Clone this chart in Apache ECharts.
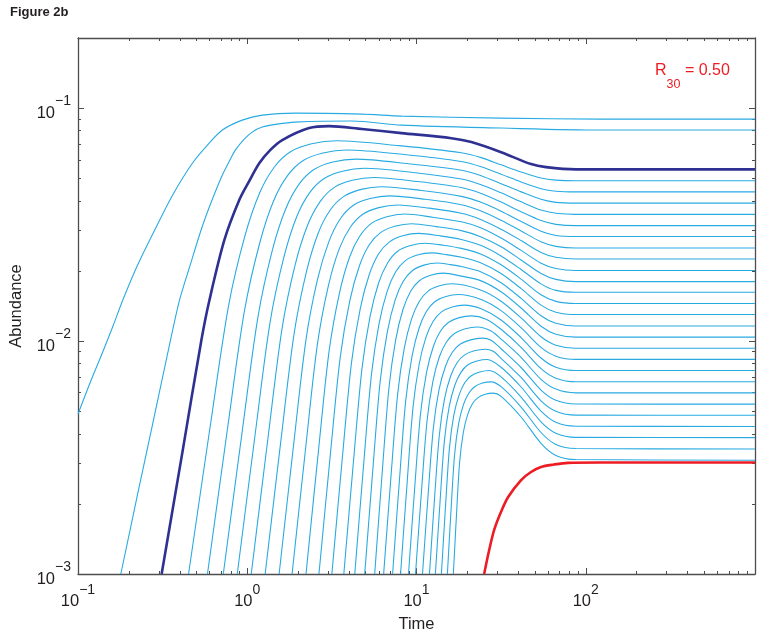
<!DOCTYPE html>
<html>
<head>
<meta charset="utf-8">
<title>Figure 2b</title>
<script src="https://cdn.jsdelivr.net/npm/echarts@6/dist/echarts.min.js"></script>
<style>
  html, body { margin: 0; padding: 0; background: #fff; }
  #box { width: 761px; height: 638px; }
</style>
</head>
<body>
<div id="box"></div>
<script>
// tick values (log axes)
const xMajor = [0.1, 1, 10, 100, 1000];
const xMinor = [0.2, 0.3, 0.4, 0.5, 0.6, 0.7, 0.8, 0.9, 2, 3, 4, 5, 6, 7, 8, 9,
  20, 30, 40, 50, 60, 70, 80, 90, 200, 300, 400, 500, 600, 700, 800, 900];
const xLabels = [0.1, 1, 10, 100];
const yMajor = [0.001, 0.01, 0.1];
const yMinor = [0.002, 0.003, 0.004, 0.005, 0.006, 0.007, 0.008, 0.009,
  0.02, 0.03, 0.04, 0.05, 0.06, 0.07, 0.08, 0.09, 0.2];
const yLabels = [0.001, 0.01, 0.1];

// [time, abundance]
const topCurve1 = [[0.1,0.00486],[0.119,0.00674],[0.14,0.00897],[0.161,0.0116],[0.184,0.015],[0.225,0.0212],
  [0.284,0.03],[0.362,0.0423],[0.475,0.0581],[0.582,0.0694],[0.713,0.0805],[0.934,0.0888],[1.225,0.0933],
  [1.92,0.0952],[4.75,0.0942],[8.16,0.0924],[31.6,0.0906],[122,0.0897],[1000,0.0897]];
const topCurve2 = [[0.179,0.001],[0.225,0.0022],[0.276,0.0044],[0.352,0.0101],[0.398,0.015],[0.462,0.0214],
  [0.529,0.0294],[0.582,0.0358],[0.639,0.0427],[0.713,0.0516],[0.784,0.0592],[0.85,0.066],[0.96,0.0736],
  [1.07,0.0789],[1.225,0.0829],[1.5,0.0854],[1.92,0.0871],[4.15,0.088],[8.16,0.0845],[31.6,0.0821],
  [122,0.0805],[1000,0.0805]];
const blueCurve = [[0.312,0.001],[0.415,0.00337],[0.536,0.0101],[0.598,0.015],[0.732,0.0271],[0.897,0.0403],
  [1.027,0.0486],[1.18,0.0581],[1.366,0.066],[1.61,0.0729],[2.32,0.0821],[3.04,0.0837],[4.75,0.0813],
  [8.16,0.0781],[16.1,0.0743],[21.1,0.0715],[31.6,0.0647],[47.5,0.0575],[58.2,0.0558],[87.4,0.0546],[1000,0.0546]];
const redCurve = [[25.1,0.001],[26.9,0.00127],[28.8,0.00155],[31.6,0.00185],[34.8,0.00214],[41.5,0.00253],
  [47.5,0.00274],[54.4,0.00288],[64.8,0.00295],[78.4,0.003],[122,0.00301],[1000,0.00301]];

const lowerCurves = [
  [[0.45,0.001],[0.609,0.00448],[0.776,0.0142],[0.968,0.0282],[1.185,0.0433],[1.45,0.056],[1.81,0.0651],[2.4,0.0703],[3.38,0.0724],[7.89,0.069],[18.4,0.0643],[24.1,0.0613],[31.6,0.0571],[41.5,0.0532],[54.4,0.0501],[66.6,0.0491],[87.4,0.0488],[1000,0.0488]],
  [[0.582,0.001],[0.769,0.00434],[0.962,0.01345],[1.184,0.0263],[1.432,0.04],[1.734,0.0514],[2.141,0.0596],[2.8,0.0642],[3.88,0.0661],[8.44,0.0632],[18.4,0.059],[24.1,0.056],[31.6,0.052],[41.5,0.0482],[54.4,0.0451],[66.6,0.044],[87.4,0.0437],[1000,0.0437]],
  [[0.722,0.001],[0.938,0.0042],[1.157,0.0127],[1.406,0.0245],[1.686,0.0369],[2.024,0.0472],[2.479,0.0545],[3.209,0.0587],[4.38,0.0604],[8.97,0.0577],[18.4,0.0541],[24.1,0.0513],[31.6,0.0474],[41.5,0.0437],[54.4,0.0406],[66.6,0.0394],[87.4,0.0391],[1000,0.0391]],
  [[0.873,0.001],[1.118,0.00407],[1.363,0.012],[1.643,0.0228],[1.957,0.0341],[2.338,0.0434],[2.847,0.0499],[3.659,0.0536],[4.94,0.0552],[9.54,0.0529],[18.4,0.0496],[24.1,0.0469],[31.6,0.0433],[41.5,0.0396],[54.4,0.0365],[66.6,0.0354],[87.4,0.035],[1000,0.035]],
  [[1.056,0.001],[1.332,0.00394],[1.607,0.01136],[1.92,0.0213],[2.275,0.0315],[2.701,0.0398],[3.27,0.0457],[4.174,0.049],[5.59,0.0504],[10.1,0.0484],[18.4,0.0456],[24.1,0.043],[31.6,0.0395],[41.5,0.0359],[54.4,0.0329],[66.6,0.0317],[87.4,0.0313],[1000,0.0313]],
  [[1.276,0.001],[1.586,0.00382],[1.891,0.01074],[2.236,0.0198],[2.628,0.0291],[3.099,0.0366],[3.725,0.0418],[4.71,0.0448],[6.22,0.046],[10.7,0.0443],[18.4,0.0418],[24.1,0.0394],[31.6,0.0361],[41.5,0.0326],[54.4,0.0296],[66.6,0.0284],[87.4,0.0281],[1000,0.0281]],
  [[1.543,0.001],[1.888,0.0037],[2.224,0.01015],[2.605,0.01847],[3.04,0.0268],[3.558,0.0336],[4.243,0.0383],[5.313,0.0409],[6.94,0.042],[11.3,0.0406],[18.4,0.0385],[24.1,0.0362],[31.6,0.033],[41.5,0.0297],[54.4,0.0267],[66.6,0.0255],[87.4,0.0251],[1000,0.0251]],
  [[1.84,0.001],[2.223,0.00358],[2.593,0.0096],[3.012,0.0172],[3.491,0.0248],[4.064,0.0308],[4.816,0.035],[5.984,0.0374],[7.73,0.0384],[11.9,0.0372],[18.4,0.0354],[24.1,0.0332],[31.6,0.0302],[41.5,0.027],[54.4,0.024],[66.6,0.0229],[87.4,0.0225],[1000,0.0225]],
  [[2.224,0.001],[2.644,0.00347],[3.046,0.00907],[3.501,0.016],[4.021,0.0229],[4.637,0.0283],[5.443,0.0321],[6.681,0.0342],[8.5,0.0351],[12.5,0.034],[18.4,0.0325],[24.1,0.0306],[31.6,0.0277],[41.5,0.0245],[54.4,0.0216],[66.6,0.0205],[87.4,0.0201],[1000,0.0201]],
  [[2.652,0.001],[3.11,0.00336],[3.545,0.00855],[4.035,0.01488],[4.597,0.021],[5.261,0.0259],[6.127,0.0292],[7.441,0.0311],[9.35,0.0319],[13.1,0.031],[18.4,0.0298],[24.1,0.028],[31.6,0.0254],[41.5,0.0223],[54.4,0.0195],[66.6,0.0184],[87.4,0.018],[1000,0.018]],
  [[3.162,0.001],[3.66,0.00325],[4.128,0.00806],[4.656,0.0138],[5.261,0.0193],[5.975,0.0237],[6.9,0.0266],[8.291,0.0283],[10.27,0.029],[13.75,0.0283],[18.4,0.0273],[24.1,0.0257],[31.6,0.0232],[41.5,0.0203],[54.4,0.0176],[66.6,0.0165],[87.4,0.0162],[1000,0.0162]],
  [[3.72,0.001],[4.258,0.00314],[4.76,0.0076],[5.325,0.01282],[5.979,0.0178],[6.749,0.02164],[7.737,0.0243],[9.218,0.0257],[11.3,0.0263],[14.4,0.0258],[18.4,0.025],[24.1,0.0236],[31.6,0.02125],[41.5,0.01845],[54.4,0.0158],[66.6,0.0148],[87.4,0.0145],[1000,0.0145]],
  [[4.318,0.001],[4.887,0.00304],[5.415,0.00716],[6.013,0.0119],[6.708,0.01634],[7.52,0.01978],[8.563,0.0221],[10.11,0.0234],[12.25,0.0239],[15.0,0.0235],[18.4,0.0229],[24.1,0.02165],[31.6,0.0195],[41.5,0.0168],[54.4,0.01427],[66.6,0.0133],[87.4,0.013],[1000,0.013]],
  [[4.944,0.001],[5.546,0.00293],[6.102,0.00673],[6.733,0.011],[7.47,0.01496],[8.333,0.018],[9.436,0.02004],[11.06,0.02118],[13.29,0.02164],[15.6,0.02133],[18.4,0.0209],[24.1,0.0198],[31.6,0.0178],[41.5,0.01525],[54.4,0.01285],[66.6,0.01192],[87.4,0.0116],[1000,0.0116]],
  [[5.661,0.001],[6.295,0.00283],[6.878,0.00632],[7.544,0.01017],[8.327,0.01369],[9.239,0.01637],[10.4,0.01816],[12.11,0.01916],[14.41,0.01957],[18.4,0.019],[24.1,0.01813],[31.6,0.01627],[41.5,0.01386],[54.4,0.01158],[66.6,0.0107],[87.4,0.0104],[1000,0.0104]],
  [[6.396,0.001],[7.096,0.00273],[7.739,0.00592],[8.481,0.00937],[9.365,0.01248],[10.4,0.01483],[11.72,0.01639],[13.66,0.01726],[16.28,0.01761],[24.1,0.01653],[31.6,0.01483],[41.5,0.01257],[54.4,0.01043],[66.6,0.0096],[87.4,0.00931],[1000,0.00931]],
  [[7.225,0.001],[7.959,0.00263],[8.637,0.00555],[9.419,0.00863],[10.36,0.01138],[11.46,0.01343],[12.86,0.01479],[14.91,0.01554],[17.66,0.01585],[24.1,0.01508],[31.6,0.01351],[41.5,0.01141],[54.4,0.00939],[66.6,0.00861],[87.4,0.00834],[1000,0.00834]],
  [[8.05,0.001],[8.825,0.00253],[9.537,0.00519],[10.37,0.00795],[11.37,0.01037],[12.55,0.01216],[14.05,0.01334],[16.24,0.014],[19.16,0.01426],[24.1,0.01375],[31.6,0.01232],[41.5,0.01035],[54.4,0.00846],[66.6,0.00772],[87.4,0.00747],[1000,0.00747]],
  [[8.97,0.001],[9.797,0.00244],[10.56,0.00487],[11.46,0.00732],[12.56,0.00945],[13.84,0.01101],[15.49,0.01204],[17.88,0.01261],[21.06,0.01283],[25.8,0.01242],[31.6,0.01124],[41.5,0.0094],[54.4,0.00761],[66.6,0.00693],[87.4,0.00669],[1000,0.00669]],
  [[9.865,0.001],[10.74,0.00235],[11.54,0.00454],[12.5,0.00672],[13.67,0.00858],[15.06,0.00993],[16.84,0.01081],[19.43,0.0113],[22.85,0.01149],[27.6,0.01105],[31.6,0.0102],[41.5,0.00851],[54.4,0.00685],[66.6,0.00622],[87.4,0.00599],[1000,0.00599]],
  [[10.85,0.001],[11.75,0.00226],[12.58,0.00424],[13.57,0.00616],[14.82,0.00778],[16.28,0.00895],[18.16,0.00971],[20.88,0.01012],[24.45,0.01029],[27.6,0.01009],[31.6,0.00927],[41.5,0.0077],[54.4,0.00616],[66.6,0.00557],[87.4,0.00537],[1000,0.00536]],
  [[11.93,0.001],[12.82,0.00218],[13.65,0.00396],[14.64,0.00565],[15.9,0.00706],[17.37,0.00807],[19.25,0.00872],[21.96,0.00908],[25.46,0.00922],[28.4,0.00904],[31.6,0.00843],[41.5,0.00698],[54.4,0.00554],[66.6,0.005],[87.4,0.00481],[1000,0.0048]],
  [[12.93,0.001],[13.81,0.0021],[14.61,0.00372],[15.6,0.00523],[16.84,0.00646],[18.3,0.00734],[20.14,0.00791],[22.79,0.00821],[26.16,0.00833],[31.6,0.00772],[41.5,0.00635],[54.4,0.005],[66.6,0.00448],[87.4,0.00431],[1000,0.0043]],
  [[14.03,0.001],[14.88,0.00202],[15.66,0.00348],[16.61,0.0048],[17.84,0.00586],[19.27,0.00662],[21.08,0.0071],[23.64,0.00736],[26.88,0.00747],[31.6,0.00702],[41.5,0.00575],[54.4,0.0045],[66.6,0.00402],[87.4,0.00386],[1000,0.00385]],
  [[15.22,0.001],[16.04,0.00195],[16.79,0.00325],[17.72,0.0044],[18.92,0.00532],[20.31,0.00596],[22.06,0.00637],[24.54,0.0066],[27.62,0.00668],[31.6,0.00637],[41.5,0.00521],[54.4,0.00405],[66.6,0.0036],[87.4,0.00346],[1000,0.00344]],
  [[16.51,0.001],[17.28,0.00187],[17.99,0.00303],[18.9,0.00404],[20.06,0.00483],[21.4,0.00538],[23.1,0.00572],[25.46,0.00591],[28.38,0.00598],[31.6,0.00579],[41.5,0.00472],[54.4,0.00364],[66.6,0.00323],[87.4,0.0031],[1000,0.00308]]
];

const font = 'Liberation Sans, Arial, Helvetica, sans-serif';
const frameColor = '#4d4d4f';
const cyan = '#29abe2';

function powLabel(v) {
  const e = Math.round(Math.log10(v));
  return '{b|10}{e|' + (e < 0 ? '\u2212' + (-e) : e) + '}';
}
const powRich = {
  b: { fontSize: 16.5, fontFamily: font, color: '#231f20', lineHeight: 27, verticalAlign: 'bottom' },
  e: { fontSize: 14, fontFamily: font, color: '#231f20', lineHeight: 27, verticalAlign: 'top' }
};

function tickAxis(kind, pos, values, len, extra) {
  const range = kind === 'x' ? { min: 0.1, max: 1000 } : { min: 0.001, max: 0.2 };
  return Object.assign({
    type: 'log', logBase: 10, min: range.min, max: range.max, position: pos,
    axisLine: { show: false, onZero: false },
    axisTick: { show: true, inside: true, length: len, customValues: values,
      lineStyle: { color: frameColor, width: 1 } },
    axisLabel: { show: false },
    splitLine: { show: false }, minorSplitLine: { show: false }
  }, extra || {});
}

const series = [];
const line = (data, color, width, z) => ({
  type: 'line', data: data, xAxisIndex: 0, yAxisIndex: 0,
  showSymbol: false, symbol: 'none', smooth: 0.3, z: z, silent: true,
  lineStyle: { color: color, width: width }
});
series.push(line(topCurve1, cyan, 1.1, 2));
series.push(line(topCurve2, cyan, 1.1, 2));
lowerCurves.forEach(c => series.push(line(c, cyan, 1.1, 2)));
series.push(line(blueCurve, '#2e3192', 2.6, 3));
series.push(line(redCurve, '#ed1c24', 2.6, 3));

const chart = echarts.init(document.getElementById('box'));
chart.setOption({
  animation: false,
  backgroundColor: '#fff',
  title: {
    text: 'Figure 2b', left: 10, top: 6, padding: 0,
    textStyle: { fontFamily: font, fontSize: 13, fontWeight: 'bold', color: '#231f20' }
  },
  grid: { left: 75, right: 6, top: 38, bottom: 64, containLabel: false },
  xAxis: [
    tickAxis('x', 'bottom', xMajor, 6, {
      axisLine: { show: true, onZero: false, lineStyle: { color: frameColor, width: 1.3 } },
      axisLabel: { show: true, customValues: xLabels, formatter: powLabel, rich: powRich, margin: 9 },
      name: 'Time', nameLocation: 'middle', nameGap: 42,
      nameTextStyle: { fontFamily: font, fontSize: 16.5, color: '#231f20' }
    }),
    tickAxis('x', 'bottom', xMinor, 3),
    tickAxis('x', 'top', xMajor, 6, {
      axisLine: { show: true, onZero: false, lineStyle: { color: frameColor, width: 1.3 } }
    }),
    tickAxis('x', 'top', xMinor, 3)
  ],
  yAxis: [
    tickAxis('y', 'left', yMajor, 6, {
      axisLine: { show: true, onZero: false, lineStyle: { color: frameColor, width: 1.3 } },
      axisLabel: { show: true, customValues: yLabels, formatter: powLabel, rich: powRich, margin: 7 },
      name: 'Abundance', nameLocation: 'middle', nameGap: 53,
      nameTextStyle: { fontFamily: font, fontSize: 16.5, color: '#231f20' }
    }),
    tickAxis('y', 'left', yMinor, 3),
    tickAxis('y', 'right', yMajor, 6, {
      axisLine: { show: true, onZero: false, lineStyle: { color: frameColor, width: 1.3 } }
    }),
    tickAxis('y', 'right', yMinor, 3)
  ],
  graphic: [{
    type: 'text', left: 655, top: 63, z: 10,
    style: {
      text: '{r|R}{s|30}{r| = 0.50}',
      rich: {
        r: { fontSize: 16, fontFamily: font, fill: '#ed1c24', lineHeight: 28, verticalAlign: 'top' },
        s: { fontSize: 12.5, fontFamily: font, fill: '#ed1c24', lineHeight: 28, verticalAlign: 'bottom' }
      }
    }
  }],
  series: series
});
</script>
</body>
</html>
